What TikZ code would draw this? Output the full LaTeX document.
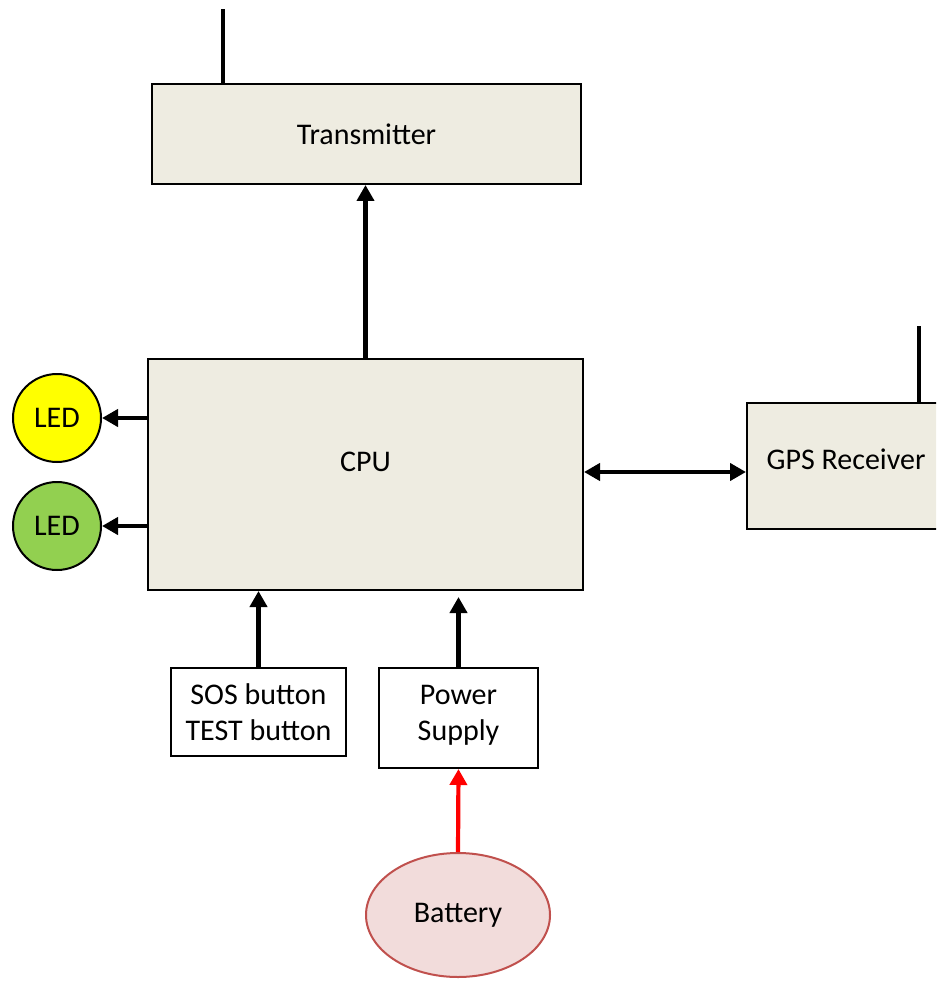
\documentclass[tikz,border=0pt]{standalone}
\usepackage{fontspec}
\setmainfont{Carlito}
\usetikzlibrary{arrows.meta,shapes.geometric}

\definecolor{boxfill}{RGB}{238,236,225}
\definecolor{ledyellow}{RGB}{255,255,0}
\definecolor{ledgreen}{RGB}{146,208,80}
\definecolor{batfill}{RGB}{242,220,219}
\definecolor{batline}{RGB}{192,80,77}

\tikzset{
    unit/.style={draw, line width=2pt, fill=boxfill, inner sep=0pt},
    plainbox/.style={draw, line width=2pt, fill=white, inner sep=0pt, align=center},
    led/.style={circle, draw, line width=2pt, minimum size=88pt, inner sep=0pt},
    wire/.style={line width=4.2pt, -{Triangle[length=16pt,width=17pt]}},
    aerial/.style={line width=3.4pt}
}

\begin{document}
\begin{tikzpicture}[x=1pt, y=-1pt, font=\fontsize{30}{36}\selectfont]
    \clip (0,0) rectangle (936,981);
    \useasboundingbox (0,0) rectangle (936,981);

    % main blocks
    \node[unit, minimum width=429pt, minimum height=100pt] (tx) at (366.5,134) {Transmitter};
    \node[unit, minimum width=435pt, minimum height=231pt] (cpu) at (365.5,474.5) {};
    \node at ([yshift=13pt]cpu.center) {CPU};
    \node[unit, minimum width=198pt, minimum height=126pt] (gps) at (846,466) {};
    \node at ([yshift=7pt]gps.center) {GPS Receiver};

    % indicators
    \node[led, fill=ledyellow] (led1) at (57,418) {LED};
    \node[led, fill=ledgreen] (led2) at (57,526) {LED};

    % inputs
    \node[plainbox, minimum width=175pt, minimum height=88pt] (sos) at (258.5,712) {SOS button\\TEST button};
    \node[plainbox, minimum width=159pt, minimum height=100pt] (psu) at (458.5,718) {};
    \node at ([yshift=3pt]psu.center) [align=center] {Power\\Supply};
    \node[ellipse, draw=batline, line width=2pt, fill=batfill, minimum width=184pt, minimum height=124pt, inner sep=0pt] (bat) at (458,915) {Battery};

    % aerials
    \draw[aerial] ([xshift=-143.5pt]tx.north) -- ++(0,-74);
    \draw[aerial] ([xshift=73pt]gps.north) -- ++(0,-76);

    % connections
    \draw[wire] (cpu.north) -- (cpu.north |- tx.south);
    \draw[wire] (cpu.west |- led1) -- (led1);
    \draw[wire] (cpu.west |- led2) -- (led2);
    \draw[wire, {Triangle[length=16pt,width=17pt]}-{Triangle[length=16pt,width=17pt]}] (cpu.east |- 0,472) -- (gps.west |- 0,472);
    \draw[wire] (sos.north) -- (sos.north |- cpu.south);
    \draw[wire, shorten >=6pt] (psu.north) -- (psu.north |- cpu.south);
    \draw[wire, red] (bat.north) -- (psu.south);
\end{tikzpicture}
\end{document}
